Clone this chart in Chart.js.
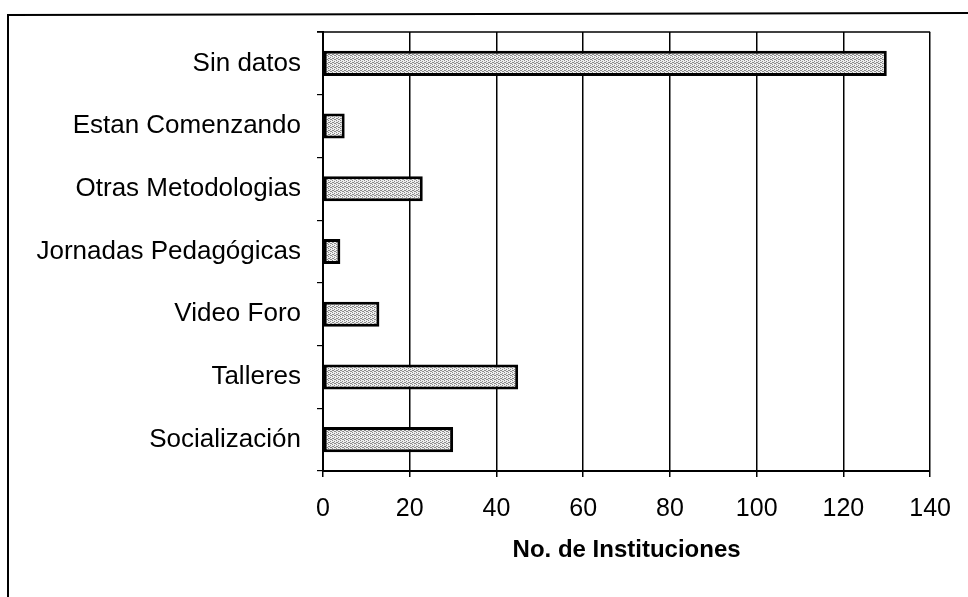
<!DOCTYPE html>
<html>
<head>
<meta charset="utf-8">
<script src="https://cdn.jsdelivr.net/npm/chart.js@4.4.0/dist/chart.umd.min.js"></script>
<style>
  html, body { margin: 0; padding: 0; background: #fff; }
  canvas { display: block; }
</style>
</head>
<body>
<canvas id="myChart" width="968" height="597"></canvas>
<script>
// datos
const categorias = ['Sin datos', 'Estan Comenzando', 'Otras Metodologias', 'Jornadas Pedagógicas', 'Video Foro', 'Talleres', 'Socialización'];
const instituciones = [130, 5, 23, 4, 13, 45, 30];
const ejeMin = 0;
const ejeMax = 140;
const ejePaso = 20;
const tituloEje = 'No. de Instituciones';

// relleno punteado gris como el de la imagen
function patron() {
  const c = document.createElement('canvas');
  c.width = 4; c.height = 4;
  const g = c.getContext('2d');
  g.fillStyle = '#eeeeee';
  g.fillRect(0, 0, 4, 4);
  g.fillStyle = '#8a8a8a';
  [[0,0],[2,1],[1,2],[3,3],[2,3],[0,2]].forEach(p => g.fillRect(p[0], p[1], 1, 1));
  return g.createPattern(c, 'repeat');
}

// marco exterior y borde superior del area
const marco = {
  id: 'marco',
  afterDraw(chart) {
    const ctx = chart.ctx;
    const a = chart.chartArea;
    ctx.save();
    ctx.strokeStyle = '#000';
    ctx.lineWidth = 2;
    ctx.beginPath();
    ctx.moveTo(8, 597);
    ctx.lineTo(8, 15);
    ctx.lineTo(968, 13);
    ctx.stroke();
    ctx.lineWidth = 1.5;
    ctx.beginPath();
    ctx.moveTo(a.left - 6, a.top);
    ctx.lineTo(a.right, a.top);
    ctx.stroke();
    ctx.restore();
  }
};

const familia = '"Liberation Sans", Arial, Helvetica, sans-serif';

const ctx = document.getElementById('myChart').getContext('2d');
const myChart = new Chart(ctx, {
  type: 'bar',
  data: {
    labels: categorias,
    datasets: [{
      data: instituciones,
      backgroundColor: patron(),
      borderColor: '#000',
      borderWidth: 3,
      borderSkipped: false,
      barPercentage: 0.4,
      categoryPercentage: 1
    }]
  },
  options: {
    indexAxis: 'y',
    responsive: false,
    animation: false,
    layout: { padding: { top: 32, right: 36, bottom: 32, left: 0 } },
    plugins: {
      legend: { display: false },
      tooltip: { enabled: false }
    },
    scales: {
      x: {
        min: ejeMin,
        max: ejeMax,
        afterFit: s => { s.height = 94; },
        ticks: { stepSize: ejePaso, color: '#000', font: { family: familia, size: 25 }, padding: 17, maxRotation: 0 },
        grid: { color: '#000', lineWidth: 1.5, tickLength: 6, drawTicks: true },
        border: { display: true, color: '#000', width: 2 },
        title: {
          display: true,
          text: tituloEje,
          color: '#000',
          font: { family: familia, size: 24, weight: 'bold' },
          padding: { top: 12, bottom: 0 }
        }
      },
      y: {
        afterFit: s => { s.width = 323; },
        ticks: { color: '#000', font: { family: familia, size: 26 }, padding: 16, autoSkip: false },
        grid: { display: true, drawOnChartArea: false, color: '#000', lineWidth: 1.2, tickLength: 6, offset: true },
        border: { display: true, color: '#000', width: 2 }
      }
    }
  },
  plugins: [marco]
});
</script>
</body>
</html>
